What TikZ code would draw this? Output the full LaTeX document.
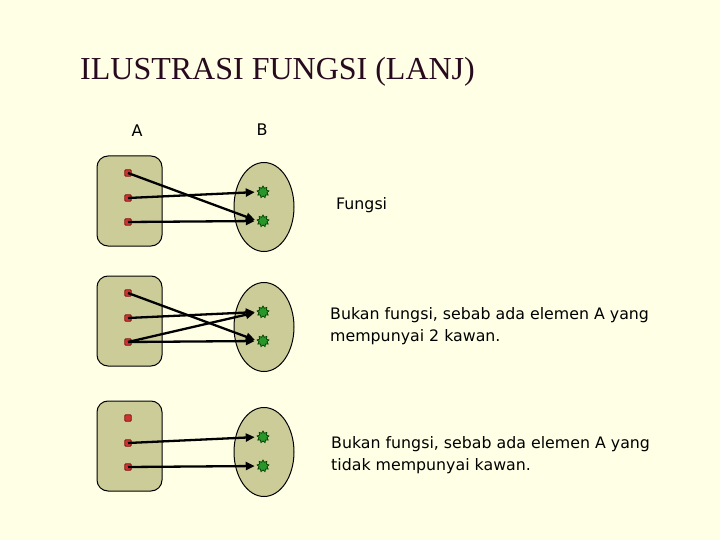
\documentclass[tikz,border=0pt]{standalone}
\usepackage{fontspec}
\setmainfont{Liberation Serif}
\newfontfamily\labfont{DejaVu Sans}
\usetikzlibrary{shapes.geometric,arrows.meta}
\definecolor{bg}{RGB}{255,255,229}
\definecolor{setfill}{RGB}{204,204,153}
\definecolor{dotred}{RGB}{204,51,51}
\definecolor{dotedge}{RGB}{130,20,20}
\definecolor{stargreen}{RGB}{40,150,40}
\definecolor{titlecol}{RGB}{40,10,30}
\tikzset{
  setA/.style={draw=black, line width=1pt, fill=setfill, rounded corners=11pt},
  setB/.style={draw=black, line width=1pt, fill=setfill, ellipse, minimum width=60pt, minimum height=89pt, inner sep=0pt},
  elemA/.style={draw=dotedge, fill=dotred, rectangle, rounded corners=1pt, minimum size=6.5pt, inner sep=0pt, line width=0.8pt},
  elemB/.style={draw=green!25!black, fill=stargreen, star, star points=9, star point ratio=1.5, minimum size=12pt, inner sep=0pt, line width=0.7pt},
  maparrow/.style={draw=black, line width=2.3pt, -{Triangle[length=9pt,width=8pt]}, shorten >=3pt},
  lab/.style={font=\labfont\fontsize{15.8}{22}\selectfont, anchor=west, align=left, inner sep=0pt, text=black}
}
\begin{document}
\begin{tikzpicture}[x=1pt,y=-1pt]
\fill[bg] (0,0) rectangle (720,540);
\useasboundingbox (0,0) rectangle (720,540);
\node[anchor=base west, inner sep=0pt, text=titlecol, font=\fontsize{32}{38}\selectfont] (title) at (80,80) {ILUSTRASI FUNGSI (LANJ)};
\node[font=\labfont\fontsize{16}{19}\selectfont, inner sep=0pt] (labA) at (137,131) {A};
\node[font=\labfont\fontsize{16}{19}\selectfont, inner sep=0pt] (labB) at (262,130) {B};
% panels
\foreach \i/\dy in {1/0,2/120,3/245}{
  \draw[setA] (97,156+\dy) rectangle (162,246+\dy);
  \node[setB] (E\i) at (264,207+\dy) {};
  \node[elemA] (a\i1) at (128,173+\dy) {};
  \node[elemA] (a\i2) at (128,198+\dy) {};
  \node[elemA] (a\i3) at (128,222+\dy) {};
  \node[elemB] (b\i1) at (263,192+\dy) {};
  \node[elemB] (b\i2) at (263,221+\dy) {};
}
% panel 1
\draw[maparrow] (a11.center) -- (b12.west);
\draw[maparrow] (a12.center) -- (b11.west);
\draw[maparrow] (a13.center) -- (b12.west);
% panel 2
\draw[maparrow] (a21.center) -- (b22.west);
\draw[maparrow] (a22.center) -- (b21.west);
\draw[maparrow] (a23.center) -- (b21.west);
\draw[maparrow] (a23.center) -- (b22.west);
% panel 3
\draw[maparrow] (a32.center) -- (b31.west);
\draw[maparrow] (a33.center) -- (b32.west);
% labels
\node[lab] (t1) at (336,205) {Fungsi};
\node[lab] (t2) at (330,326) {Bukan fungsi, sebab ada elemen A yang\\mempunyai 2 kawan.};
\node[lab] (t3) at (331,455) {Bukan fungsi, sebab ada elemen A yang\\tidak mempunyai kawan.};
\end{tikzpicture}
\end{document}
